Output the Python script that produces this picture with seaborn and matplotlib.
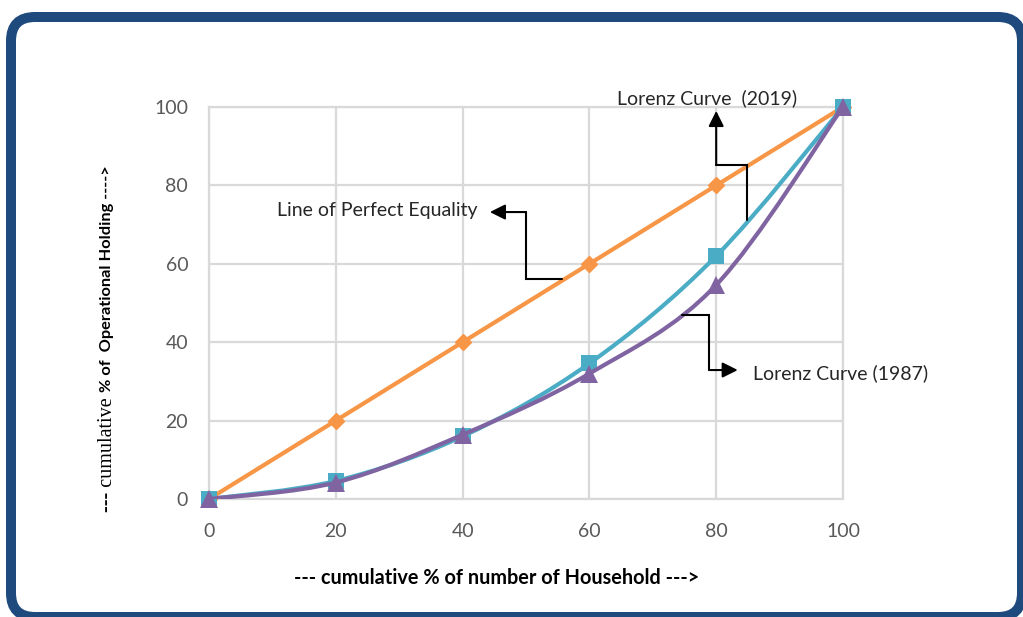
import numpy as np
import pandas as pd
import matplotlib
matplotlib.use("Agg")
import matplotlib.pyplot as plt
from matplotlib.path import Path
from matplotlib.patches import PathPatch, FancyBboxPatch
from matplotlib.transforms import IdentityTransform
import seaborn as sns

# cumulative % of households (x) and of operational holding (y)
households = [0, 20, 40, 60, 80, 100]
equality = [0, 20, 40, 60, 80, 100]
lorenz_2019 = [0, 4.6, 16.0, 34.6, 62.0, 100]
lorenz_1987 = [0, 4.2, 16.4, 32.0, 54.6, 100]
tick_values = [0, 20, 40, 60, 80, 100]

ORANGE = "#F79646"
TEAL = "#4BACC6"
PURPLE = "#8064A2"
GRID = "#D9D9D9"
TICK_COLOR = "#595959"
TEXT_COLOR = "#262626"
FRAME = "#1F4A7E"

sns.set_theme(style="white")
plt.rcParams["font.family"] = ["Lato", "DejaVu Sans"]

W, H = 1023, 617
fig = plt.figure(figsize=(W / 100, H / 100), dpi=100)
fig.patch.set_facecolor("white")
ax = fig.add_axes([209 / W, 1 - 499 / H, 634 / W, 392 / H])

df = pd.DataFrame({"x": households, "eq": equality,
                   "l19": lorenz_2019, "l87": lorenz_1987})


def smooth_path(xs, ys):
    """Cubic Bezier path through the points (Catmull-Rom style smoothing)."""
    pts = np.column_stack([xs, ys]).astype(float)
    n = len(pts)
    verts = [pts[0]]
    codes = [Path.MOVETO]
    for i in range(n - 1):
        p0 = pts[i - 1] if i > 0 else pts[i]
        p1 = pts[i]
        p2 = pts[i + 1]
        p3 = pts[i + 2] if i + 2 < n else pts[i + 1]
        c1 = p1 + (p2 - p0) / 6.0
        c2 = p2 - (p3 - p1) / 6.0
        verts += [c1, c2, p2]
        codes += [Path.CURVE4] * 3
    return Path(verts, codes)


# line of perfect equality
sns.lineplot(data=df, x="x", y="eq", ax=ax, color=ORANGE, lw=3,
             marker="D", markersize=8, markeredgewidth=1,
             markeredgecolor=ORANGE, clip_on=False, zorder=3)

# Lorenz curves: smoothed lines plus markers
for col, color, marker, ms, z in [("l19", TEAL, "s", 12, 4),
                                  ("l87", PURPLE, "^", 12.5, 5)]:
    ax.add_patch(PathPatch(smooth_path(df["x"], df[col]), fill=False,
                           edgecolor=color, lw=3, zorder=z,
                           capstyle="round", joinstyle="round"))
    sns.lineplot(data=df, x="x", y=col, ax=ax, color=color, linestyle="",
                 marker=marker, markersize=ms, markeredgewidth=0,
                 clip_on=False, zorder=z + 0.5)

ax.set_xlim(0, 100)
ax.set_ylim(0, 100)
ax.set_xticks(tick_values)
ax.set_yticks(tick_values)
ax.set_xticklabels([str(v) for v in tick_values])
ax.set_yticklabels([str(v) for v in tick_values])
ax.tick_params(axis="x", length=0, pad=17, labelsize=14, labelcolor=TICK_COLOR)
ax.tick_params(axis="y", length=0, pad=15, labelsize=14, labelcolor=TICK_COLOR)
ax.grid(True, color=GRID, lw=1.6)
ax.set_axisbelow(True)
for s in ax.spines.values():
    s.set_color(GRID)
    s.set_linewidth(1.6)
ax.set_xlabel("")
ax.set_ylabel("")


# elbow connectors with arrow heads
def elbow(points, color="black"):
    xs = [p[0] for p in points[:-1]]
    ys = [p[1] for p in points[:-1]]
    ax.plot(xs, ys, color=color, lw=1.5, clip_on=False, zorder=6,
            solid_joinstyle="miter")
    ax.annotate("", xy=points[-1], xytext=points[-2],
                arrowprops=dict(arrowstyle="-|>", color=color, lw=1.5,
                                mutation_scale=23, shrinkA=0, shrinkB=0),
                annotation_clip=False, zorder=6)


elbow([(55.7, 56.1), (50.0, 56.1), (50.0, 73.2), (44.3, 73.2)])
elbow([(84.9, 71.2), (84.9, 85.2), (80.0, 85.2), (80.0, 99.0)])
elbow([(74.6, 46.9), (78.9, 46.9), (78.9, 32.9), (83.4, 32.9)])

ax.text(10.7, 73.5, "Line of Perfect Equality", fontsize=14, color=TEXT_COLOR,
        ha="left", va="center", zorder=7)
ax.text(78.5, 102.3, "Lorenz Curve  (2019)", fontsize=14, color=TEXT_COLOR,
        ha="center", va="center", clip_on=False, zorder=7)
ax.text(85.8, 32.1, "Lorenz Curve (1987)", fontsize=14, color=TEXT_COLOR,
        ha="left", va="center", zorder=7)

# axis titles
fig.text(497 / W, 1 - 578 / H, "--- cumulative % of number of Household --->",
         fontsize=14.3, fontweight="bold", color="black", ha="center", va="center")

y1 = fig.text(107 / W, 1 - 512 / H, "--- cumulative ", fontsize=14.5,
              family=["Liberation Serif", "DejaVu Serif"], color="black",
              rotation=90, rotation_mode="anchor", ha="left", va="center")
fig.canvas.draw()
bb = y1.get_window_extent()
fig.text(107 / W, bb.y1 / H, "% of  Operational Holding ---->", fontsize=11.8,
         fontweight="bold", color="black", rotation=90, rotation_mode="anchor",
         ha="left", va="center")

# rounded frame around the chart
frame = FancyBboxPatch((11, 0), 1011, 600,
                       boxstyle="round,pad=0,rounding_size=24",
                       transform=IdentityTransform(), fill=False,
                       edgecolor=FRAME, lw=7.2)
fig.add_artist(frame)

fig.savefig("out.png", dpi=100)
